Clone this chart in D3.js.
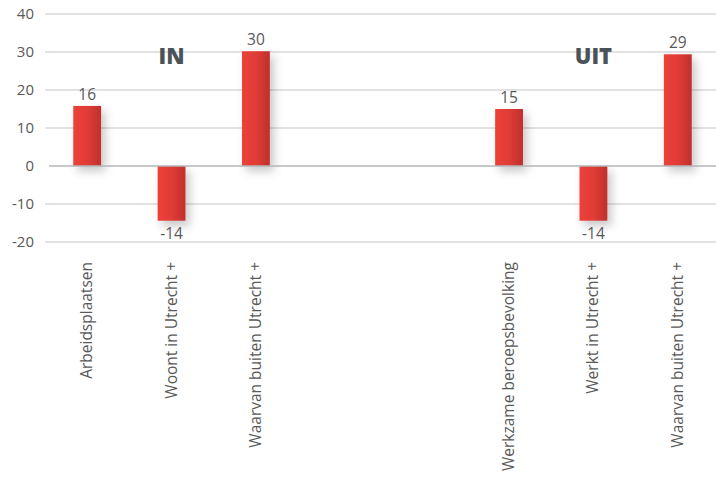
<!DOCTYPE html>
<html><head><meta charset="utf-8">
<script src="https://cdn.jsdelivr.net/npm/d3@7"></script>
<style>body{margin:0;background:#fff;} svg{display:block;font-family:"Open Sans",sans-serif;}</style>
</head><body>
<svg id="c" width="716" height="481"></svg>
<script>
const categories = ["Arbeidsplaatsen","Woont in Utrecht +","Waarvan buiten Utrecht +","","","Werkzame beroepsbevolking","Werkt in Utrecht +","Waarvan buiten Utrecht +"];
const values = [15.8,-14.4,30.2,null,null,15.0,-14.4,29.4];
const yTicks = [-20,-10,0,10,20,30,40];
const groupLabels = [{text:"IN", cat:1, y:29}, {text:"UIT", cat:6, y:29}];

const svg = d3.select("#c");
const x = d3.scaleBand().domain(d3.range(categories.length)).range([45,720]).paddingInner(0.67).paddingOuter(0.335);
const y = d3.scaleLinear().domain([-20,40]).range([242,14]);
const fmt = v => String(Math.round(v));

const defs = svg.append("defs");
const g = defs.append("linearGradient").attr("id","bg").attr("x1","0").attr("x2","1").attr("y1","0").attr("y2","0");
g.append("stop").attr("offset","0").attr("stop-color","#ec4139");
g.append("stop").attr("offset","0.5").attr("stop-color","#e03c36");
g.append("stop").attr("offset","1").attr("stop-color","#c0302d");
const f = defs.append("filter").attr("id","sh").attr("x","-60%").attr("y","-20%").attr("width","240%").attr("height","150%");
f.append("feDropShadow").attr("dx",4).attr("dy",5).attr("stdDeviation",5).attr("flood-color","#000").attr("flood-opacity",0.22);

// grid
svg.append("g").selectAll("line").data(yTicks.filter(d=>d!==0)).join("line")
  .attr("x1",45).attr("x2",716).attr("y1",d=>y(d)).attr("y2",d=>y(d))
  .attr("stroke","#d9d9d9").attr("stroke-width",1.5);

// y tick labels
svg.append("g").selectAll("text").data(yTicks).join("text")
  .attr("x",34).attr("y",d=>y(d)).attr("dy","0.35em").attr("text-anchor","end")
  .attr("font-size",15).attr("fill","#595959").text(d=>String(d));

// bars
const data = values.map((v,i)=>({v,i})).filter(d=>d.v!==null);
svg.append("g").selectAll("rect").data(data).join("rect")
  .attr("x",d=>x(d.i)).attr("width",x.bandwidth())
  .attr("y",d=>y(Math.max(0,d.v))).attr("height",d=>Math.abs(y(d.v)-y(0)))
  .attr("fill","url(#bg)").attr("filter","url(#sh)");

// zero line
svg.append("line").attr("x1",49).attr("x2",716).attr("y1",y(0)).attr("y2",y(0))
  .attr("stroke","#b3b6b8").attr("stroke-width",1.5);

// value labels
svg.append("g").selectAll("text").data(data).join("text")
  .attr("x",d=>x(d.i)+x.bandwidth()/2)
  .attr("y",d=>d.v>=0? y(d.v)-6 : y(d.v)+18)
  .attr("text-anchor","middle").attr("font-size",15.5).attr("fill","#595959").text(d=>fmt(d.v));

// group labels
svg.append("g").selectAll("text").data(groupLabels).join("text")
  .attr("x",d=>x(d.cat)+x.bandwidth()/2).attr("y",d=>y(d.y)+8)
  .attr("text-anchor","middle").attr("font-size",22).attr("font-weight",800)
  .attr("fill","#4b5358").text(d=>d.text);

// category labels
svg.append("g").selectAll("text").data(categories.map((c,i)=>({c,i})).filter(d=>d.c)).join("text")
  .attr("transform",d=>`translate(${x(d.i)+x.bandwidth()/2+5},262) rotate(-90)`)
  .attr("text-anchor","end").attr("font-size",15.5).attr("fill","#595959").text(d=>d.c);
</script>
</body></html>
